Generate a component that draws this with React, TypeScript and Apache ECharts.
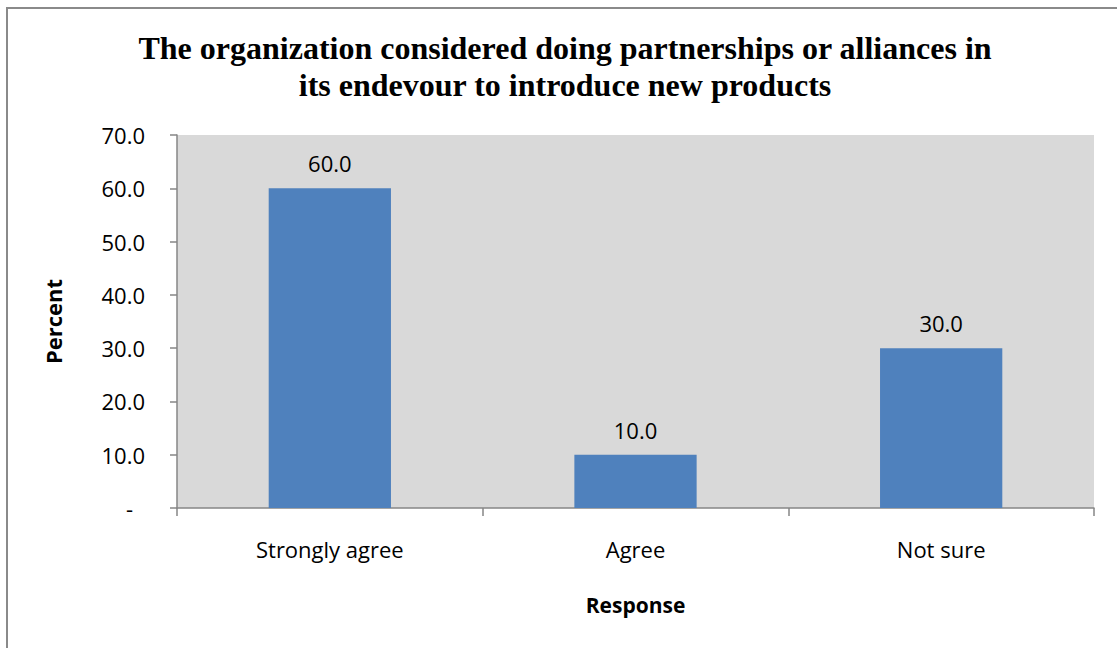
import React, { useEffect, useRef } from "react";
import * as echarts from "echarts";

const categories = ["Strongly agree", "Agree", "Not sure"];
const values = [60.0, 10.0, 30.0];
const titleLines = [
  "The organization considered doing partnerships or alliances in",
  "its endevour to introduce new products",
];
const yAxisName = "Percent";
const xAxisName = "Response";

const FONT = '"Open Sans", Lato, sans-serif';

export default function App() {
  const ref = useRef<HTMLDivElement>(null);
  useEffect(() => {
    document.body.style.margin = "0";
    const chart = echarts.init(ref.current!, null, { renderer: "svg" });
    chart.setOption({
      animation: false,
      backgroundColor: "#ffffff",
      graphic: [
        {
          type: "rect",
          shape: { x: 7, y: 8, width: 1300, height: 800 },
          style: { fill: "none", stroke: "#8a8a8a", lineWidth: 2 },
          silent: true,
        },
        {
          type: "text",
          x: 565,
          y: 66,
          style: {
            text: titleLines.join("\n"),
            align: "center",
            verticalAlign: "middle",
            font: 'bold 32px "Liberation Serif", "Times New Roman", serif',
            lineHeight: 37,
            fill: "#000",
          },
        },
      ],
      grid: {
        left: 177,
        right: 23,
        top: 135,
        bottom: 140,
        show: true,
        backgroundColor: "#D9D9D9",
        borderWidth: 0,
      },
      xAxis: {
        type: "category",
        data: categories,
        name: xAxisName,
        nameLocation: "middle",
        nameGap: 86,
        nameTextStyle: { fontFamily: FONT, fontSize: 21, fontWeight: "bold", color: "#000" },
        axisLine: { lineStyle: { color: "#868686", width: 1.5 } },
        axisTick: { show: true, length: 8, lineStyle: { color: "#868686", width: 1.5 } },
        axisLabel: { fontFamily: FONT, fontSize: 22, color: "#000", margin: 30 },
      },
      yAxis: {
        type: "value",
        min: 0,
        max: 70,
        interval: 10,
        name: yAxisName,
        nameLocation: "middle",
        nameGap: 113,
        nameRotate: 90,
        nameTextStyle: { fontFamily: FONT, fontSize: 22, fontWeight: "bold", color: "#000" },
        splitLine: { show: false },
        axisLine: { show: true, lineStyle: { color: "#868686", width: 1.5 } },
        axisTick: { show: true, length: 7, lineStyle: { color: "#868686", width: 1.5 } },
        axisLabel: {
          fontFamily: FONT,
          fontSize: 22,
          color: "#000",
          margin: 32,
          formatter: (v: number) => (v === 0 ? "{d|-}" : v.toFixed(1)),
          rich: { d: { fontFamily: FONT, fontSize: 22, color: "#000", padding: [0, 12, 0, 0] } },
        },
      },
      series: [
        {
          type: "bar",
          data: values,
          barWidth: "40%",
          itemStyle: { color: "#4F81BD" },
          label: {
            show: true,
            position: "top",
            distance: 14,
            fontFamily: FONT,
            fontSize: 22,
            color: "#000",
            formatter: (p: any) => Number(p.value).toFixed(1),
          },
        },
      ],
    });
    return () => chart.dispose();
  }, []);
  return <div ref={ref} style={{ width: 1117, height: 648 }} />;
}
